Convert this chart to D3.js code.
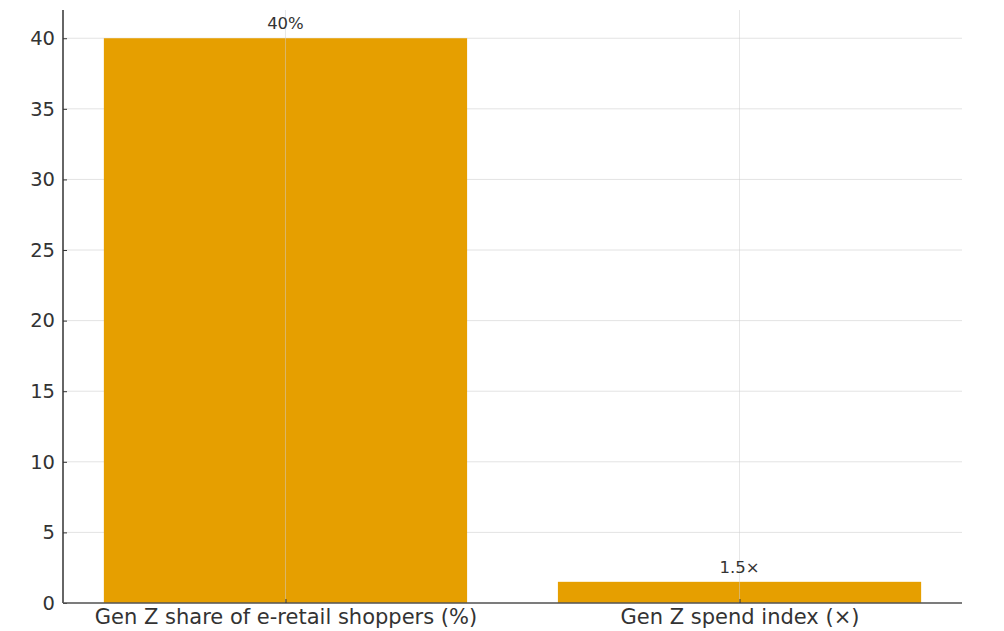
<!DOCTYPE html>
<html><head><meta charset="utf-8">
<script src="https://cdn.jsdelivr.net/npm/d3@7"></script>
<style>body{margin:0;background:#fff}svg{display:block}text{font-family:"DejaVu Sans",sans-serif}</style>
</head><body>
<svg id="c" width="1004" height="631"></svg>
<script>
const categories = ["Gen Z share of e-retail shoppers (%)", "Gen Z spend index (×)"];
const values = [40, 1.5];
const barLabels = ["40%", "1.5×"];
const yTicks = [0, 5, 10, 15, 20, 25, 30, 35, 40];

const svg = d3.select("#c");
const L = 63, R = 962, T = 10, B = 603;
const x = d3.scaleLinear().domain([-0.49, 1.49]).range([L, R]);
const y = d3.scaleLinear().domain([0, 42]).range([B, T]);
const bw = x(0.4) - x(-0.4);

// horizontal grid
svg.append("g").selectAll("line").data(yTicks).join("line")
  .attr("x1", L).attr("x2", R).attr("y1", d => y(d)).attr("y2", d => y(d))
  .attr("stroke", "#e3e3e3").attr("stroke-width", 1);

// bars
svg.append("g").selectAll("rect").data(values).join("rect")
  .attr("x", (d, i) => x(i) - bw / 2).attr("width", bw)
  .attr("y", d => y(d)).attr("height", d => B - y(d))
  .attr("fill", "#E69F00");

// vertical grid (over bars, faint)
svg.append("g").selectAll("line").data(categories).join("line")
  .attr("x1", (d, i) => x(i)).attr("x2", (d, i) => x(i)).attr("y1", T).attr("y2", B)
  .attr("stroke", "#d0d0d0").attr("stroke-opacity", 0.5).attr("stroke-width", 1);

// bar labels
svg.append("g").selectAll("text").data(barLabels).join("text")
  .attr("x", (d, i) => x(i)).attr("y", (d, i) => y(values[i]) - 9)
  .attr("text-anchor", "middle").attr("font-size", 16.5).attr("fill", "#333")
  .text(d => d);

// y axis
const ya = svg.append("g").attr("transform", `translate(${L},0)`)
  .call(d3.axisLeft(y).tickValues(yTicks).tickSize(-4).tickPadding(8).tickFormat(d3.format("d")));
ya.select(".domain").attr("stroke", "#333").attr("stroke-width", 1.5).attr("d", `M0,${T}V${B}`);
ya.selectAll(".tick line").attr("stroke", "#333");
ya.selectAll(".tick text").attr("font-size", 19.5).attr("fill", "#333").attr("font-family", "DejaVu Sans");

// x axis
const xa = svg.append("g").attr("transform", `translate(0,${B})`)
  .call(d3.axisBottom(x).tickValues([0, 1]).tickSize(-4).tickPadding(6).tickFormat(i => categories[i]));
xa.select(".domain").attr("stroke", "#555").attr("stroke-width", 1.5).attr("d", `M${L},0H${R}`);
xa.selectAll(".tick line").attr("stroke", "#333");
xa.selectAll(".tick text").attr("font-size", 21).attr("fill", "#333").attr("font-family", "DejaVu Sans")
  .attr("dy", "0.71em");
</script>
</body></html>
